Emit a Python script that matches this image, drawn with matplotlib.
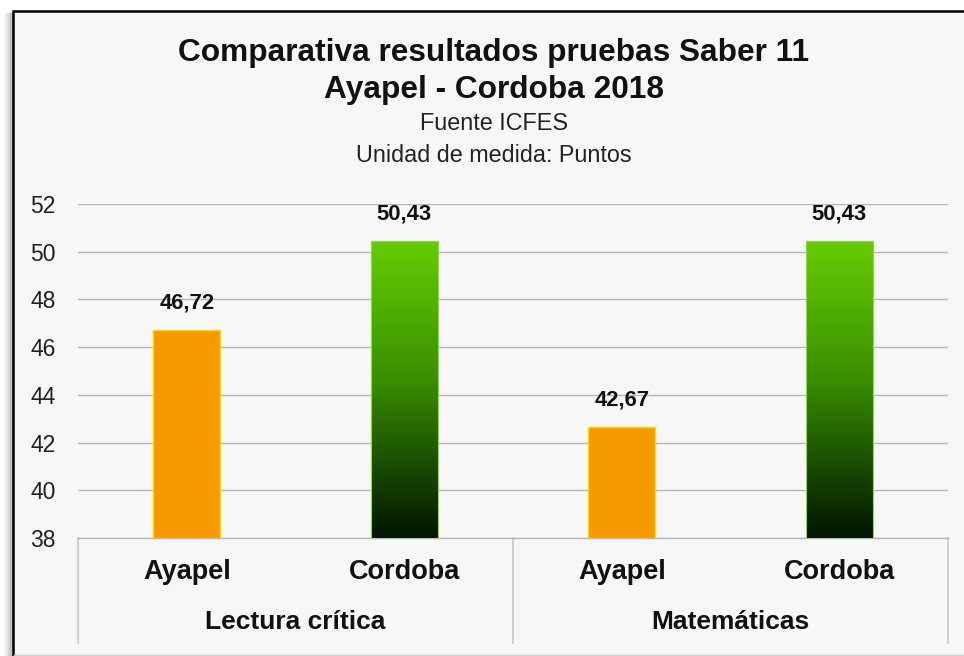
import numpy as np
import matplotlib
matplotlib.use('Agg')
import matplotlib.pyplot as plt
from matplotlib.patches import Rectangle
from matplotlib.lines import Line2D
from matplotlib.colors import LinearSegmentedColormap

# Puntajes promedio Saber 11 (2018)
groups = ['Lectura crítica', 'Matemáticas']
places = ['Ayapel', 'Cordoba']
ayapel = [46.72, 42.67]
cordoba = [50.43, 50.43]
yticks = [38, 40, 42, 44, 46, 48, 50, 52]

plt.rcParams['font.family'] = ['Liberation Sans', 'DejaVu Sans']

fig = plt.figure(figsize=(9.64, 6.56), dpi=100)
fig.patch.set_facecolor('white')

W, H = 964.0, 656.0

# marco con sombra
for k, a in zip([9, 7, 5, 3], [0.08, 0.12, 0.18, 0.25]):
    fig.patches.append(Rectangle(((13 - k) / W, -0.02), 0.2, (H - 11 - k * 0.3) / H + 0.02,
                                 transform=fig.transFigure, facecolor='#888888',
                                 edgecolor='none', alpha=a, zorder=-3))
fig.patches.append(Rectangle((13 / W, 1 - 655 / H), 1.05, (655 - 11) / H,
                             transform=fig.transFigure, facecolor='#F7F7F7',
                             edgecolor='none', zorder=-2))
fig.lines.append(Line2D([13 / W, 13 / W, 1.0], [1 - 655 / H, 1 - 11 / H, 1 - 11 / H],
                        transform=fig.transFigure, color='black', linewidth=1.8,
                        solid_joinstyle='miter', zorder=-1))
fig.lines.append(Line2D([14 / W, 1.0], [1 - 655 / H, 1 - 655 / H], transform=fig.transFigure,
                        color='#CCCCCC', linewidth=1, zorder=-1))

cx = 494 / W
fig.text(cx, 1 - 53 / H, 'Comparativa resultados pruebas Saber 11', ha='center', va='center',
         fontsize=22.8, fontweight='bold', color='#111111')
fig.text(cx, 1 - 90 / H, 'Ayapel - Cordoba 2018', ha='center', va='center',
         fontsize=22.8, fontweight='bold', color='#111111')
fig.text(cx, 1 - 124 / H, 'Fuente ICFES', ha='center', va='center',
         fontsize=16.8, color='#222222')
fig.text(cx, 1 - 156 / H, 'Unidad de medida: Puntos', ha='center', va='center',
         fontsize=16.8, color='#222222')

ax = fig.add_axes([78 / W, 1 - 538 / H, 870 / W, 334 / H])
ax.set_facecolor('none')

values = []
labels = []
for i, g in enumerate(groups):
    values += [ayapel[i], cordoba[i]]
    labels += places
x = np.arange(len(values))
bw = 0.31
ymin, ymax = yticks[0], yticks[-1]

green = LinearSegmentedColormap.from_list('verde', [(0, '#001500'), (0.55, '#3A9200'), (1, '#66CC00')])
grad = np.linspace(0, 1, 256).reshape(-1, 1)

for i, v in enumerate(values):
    if i % 2 == 0:
        ax.bar(x[i], v - ymin, bottom=ymin, width=bw, color='#F59A00',
               edgecolor='#FFD800', linewidth=1, zorder=3)
    else:
        b = ax.bar(x[i], v - ymin, bottom=ymin, width=bw, facecolor='none',
                   edgecolor='#8ADB3C', linewidth=0.8, zorder=4)[0]
        im = ax.imshow(grad, extent=[x[i] - bw / 2, x[i] + bw / 2, ymin, v], origin='lower',
                       aspect='auto', cmap=green, zorder=3)
        im.set_clip_path(b)
    ax.annotate(f'{v:.2f}'.replace('.', ','), (x[i], v), xytext=(0, 19.5),
                textcoords='offset points', ha='center', va='center',
                fontsize=15.8, fontweight='bold', color='#111111')

ax.set_xlim(-0.5, len(values) - 0.5)
ax.set_ylim(ymin, ymax)
ax.set_yticks(yticks)
ax.set_yticklabels([str(t) for t in yticks])
ax.set_xticks([])
ax.tick_params(axis='y', length=0, pad=16, labelsize=16.5, labelcolor='#222222')
ax.grid(axis='y', color='#B8B8B8', linewidth=1, zorder=0)
ax.set_axisbelow(True)
for s in ['left', 'right', 'top']:
    ax.spines[s].set_visible(False)
ax.spines['bottom'].set_color('#B8B8B8')
ax.spines['bottom'].set_linewidth(1)

# caja de categorias bajo el eje
tr = ax.get_xaxis_transform()
for sx in [-0.5, 1.5, 3.5]:
    ax.plot([sx, sx], [0, -0.3144], transform=tr, clip_on=False, color='#C8C8C8', linewidth=1.2)
for i, lab in enumerate(labels):
    ax.text(x[i], -0.102, lab, transform=tr, ha='center', va='center',
            fontsize=19.5, fontweight='bold', color='#111111')
for j, g in enumerate(groups):
    ax.text(2 * j + 0.5, -0.2515, g, transform=tr, ha='center', va='center',
            fontsize=19, fontweight='bold', color='#111111')

fig.savefig('out.png', dpi=100)
